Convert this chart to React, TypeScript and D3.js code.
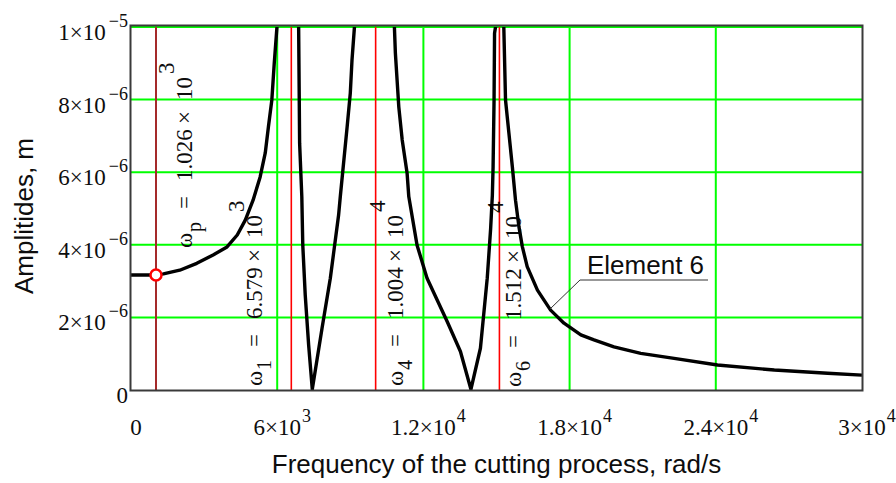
import { useMemo } from "react";
import * as d3 from "d3";

const WIDTH = 896;
const HEIGHT = 483;
const PLOT = { left: 131, right: 862, top: 27, bottom: 390 };

// response curve of element 6 (rad/s, m)
const freq = [
  0, 1026, 1330, 2000, 2700, 3370, 3940, 4360, 4690, 5010, 5300, 5510, 5640, 5780, 5880, 5990,
  6579, 6880, 6920, 7010, 7050, 7150, 7290, 7440, 7840, 8180, 8520, 8590, 8870, 9000, 9070, 9170,
  10040, 10810, 10850, 10920, 10990, 11130, 11330, 11400, 11740, 12150, 12980, 13520, 13950,
  14340, 14620, 14760, 14830, 14860, 14900, 14920, 14960, 15120, 15300, 15370, 15510, 15650,
  15780, 15920, 16060, 16260, 16680, 17220, 17770, 18460, 19000, 19820, 20920, 22290, 24070,
  26400, 28590, 30000,
];
const amp = [
  3.17e-6, 3.17e-6, 3.2e-6, 3.3e-6, 3.49e-6, 3.72e-6, 3.94e-6, 4.27e-6, 4.68e-6, 5.23e-6,
  5.87e-6, 6.53e-6, 7.25e-6, 7.99e-6, 9.01e-6, 1.0e-5, 4e-5, 1.0e-5, 6.8e-6, 5.33e-6, 3.99e-6,
  2.62e-6, 1.24e-6, 0.02e-6, 1.7e-6, 3.08e-6, 4.82e-6, 5.33e-6, 7.25e-6, 8.18e-6, 9.09e-6,
  1.0e-5, 4e-5, 1.0e-5, 9.28e-6, 8.54e-6, 7.8e-6, 6.89e-6, 5.98e-6, 5.33e-6, 3.99e-6, 3.08e-6,
  1.88e-6, 1.06e-6, 0.02e-6, 1.15e-6, 3.08e-6, 4.45e-6, 5.37e-6, 6.15e-6, 7.99e-6, 9.83e-6,
  1.0e-5, 4e-5, 1.0e-5, 7.99e-6, 7.07e-6, 6.15e-6, 5.23e-6, 4.5e-6, 3.95e-6, 3.4e-6, 2.75e-6,
  2.2e-6, 1.84e-6, 1.52e-6, 1.38e-6, 1.19e-6, 1.01e-6, 0.87e-6, 0.69e-6, 0.55e-6, 0.46e-6,
  0.41e-6,
];

// process frequency and natural frequencies
const markerFreq = 1026;
const markerAmp = 3.17e-6;
const modeNames = ["p", "1", "4", "6"];
const modeFreqs = [1026, 6579, 10040, 15120];
const modeValues = ["1.026", "6.579", "1.004", "1.512"];
const modeExps = ["3", "3", "4", "4"];
const modeColors = ["#a52a2a", "#ff0000", "#ff0000", "#ff0000"];
// label placement: baseline offset from the line (px) and start y
const modeLabelDx = [36, -29, 27, 22];
const modeLabelY = [248, 386, 386, 387];

const xTicks = [0, 6000, 12000, 18000, 24000, 30000];
const yTicks = [0, 2e-6, 4e-6, 6e-6, 8e-6, 1e-5];

const SERIF = "'Liberation Serif', 'Times New Roman', serif";
const SANS = "'Liberation Sans', Arial, sans-serif";
const INK = "#0d0d0d";

function splitExp(v: number): [string, string] | null {
  if (v === 0) return null;
  const [m, e] = v.toExponential().split("e");
  return [m, e.replace("+", "").replace("-", "\u2212")];
}

function TickLabel({ value, x, y, anchor }: { value: number; x: number; y: number; anchor: "end" | "middle" }) {
  const p = splitExp(value);
  return (
    <text x={x} y={y} textAnchor={anchor} fontFamily={SERIF} fontSize={23} fill={INK}>
      {p ? (
        <>
          <tspan>{`${p[0]}\u00d710`}</tspan>
          <tspan dx={p[1].length > 1 ? 3 : 1} dy={-13} fontSize={18}>
            {p[1]}
          </tspan>
        </>
      ) : (
        "0"
      )}
    </text>
  );
}

export default function App() {
  const x = useMemo(
    () => d3.scaleLinear().domain([0, 30000]).range([PLOT.left, PLOT.right]),
    [],
  );
  const y = useMemo(() => d3.scaleLinear().domain([0, 1e-5]).range([PLOT.bottom, PLOT.top]), []);

  const points = freq.map((f, i) => [f, amp[i]] as [number, number]);
  const path =
    d3
      .line<[number, number]>()
      .x((d) => x(d[0]))
      .y((d) => y(d[1]))(points) ?? "";

  return (
    <svg
      width={WIDTH}
      height={HEIGHT}
      style={{ position: "absolute", left: 0, top: 0, background: "#fff" }}
    >
      <defs>
        <clipPath id="plot-clip">
          <rect
            x={PLOT.left}
            y={PLOT.top}
            width={PLOT.right - PLOT.left}
            height={PLOT.bottom - PLOT.top}
          />
        </clipPath>
      </defs>

      {/* grid */}
      {yTicks.slice(1).map((t) => (
        <line
          key={`gy${t}`}
          x1={PLOT.left}
          x2={PLOT.right}
          y1={y(t)}
          y2={y(t)}
          stroke="#00ff00"
          strokeWidth={2}
        />
      ))}
      {xTicks.slice(1, -1).map((t) => (
        <line
          key={`gx${t}`}
          x1={x(t)}
          x2={x(t)}
          y1={PLOT.top}
          y2={PLOT.bottom}
          stroke="#00ff00"
          strokeWidth={2}
        />
      ))}

      {/* natural frequency markers */}
      {modeFreqs.map((f, i) => (
        <line
          key={`m${i}`}
          x1={x(f)}
          x2={x(f)}
          y1={PLOT.top}
          y2={PLOT.bottom}
          stroke={modeColors[i]}
          strokeWidth={i === 0 ? 2 : 1.6}
        />
      ))}

      {/* vertical result labels */}
      {modeFreqs.map((f, i) => (
        <g
          key={`l${i}`}
          transform={`translate(${x(f) + modeLabelDx[i]},${modeLabelY[i]}) rotate(-90)`}
          fontFamily={SERIF}
          fontSize={23}
          fill={INK}
        >
          <text x={0} y={0}>
            {"\u03c9"}
          </text>
          <text x={16} y={9} fontSize={20}>
            {modeNames[i]}
          </text>
          <text x={39} y={0}>
            =
          </text>
          <text x={67} y={0}>
            {modeValues[i]}
          </text>
          <text x={124} y={0}>
            {"\u00d7"}
          </text>
          <text x={148} y={0}>
            10
          </text>
          <text x={174} y={-18}>
            {modeExps[i]}
          </text>
        </g>
      ))}

      {/* curve */}
      <path
        d={path}
        fill="none"
        stroke="#000"
        strokeWidth={3.4}
        strokeLinejoin="round"
        clipPath="url(#plot-clip)"
      />

      {/* operating point */}
      <circle
        cx={x(markerFreq)}
        cy={y(markerAmp)}
        r={5.5}
        fill="#fff"
        stroke="#ff0000"
        strokeWidth={2.5}
      />

      {/* frame */}
      <rect
        x={PLOT.left - 0.5}
        y={PLOT.top - 1.5}
        width={PLOT.right - PLOT.left + 1}
        height={PLOT.bottom - PLOT.top + 2}
        fill="none"
        stroke="#3a3a3a"
        strokeWidth={2}
      />

      {yTicks.map((t) => (
        <TickLabel key={`ty${t}`} value={t} x={128} y={y(t) + 13} anchor="end" />
      ))}
      {xTicks.map((t) => (
        <TickLabel key={`tx${t}`} value={t} x={x(t) + 5} y={435} anchor="middle" />
      ))}

      {/* axis titles */}
      <text
        x={(PLOT.left + PLOT.right) / 2}
        y={473}
        textAnchor="middle"
        fontFamily={SANS}
        fontSize={26}
        fill={INK}
      >
        Frequency of the cutting process, rad/s
      </text>
      <text
        transform={`translate(33,${216}) rotate(-90)`}
        textAnchor="middle"
        fontFamily={SANS}
        fontSize={26}
        fill={INK}
      >
        Amplitides, m
      </text>

      {/* curve label */}
      <text x={587} y={274} fontFamily={SANS} fontSize={26} fill={INK}>
        Element 6
      </text>
      <line x1={580} x2={708} y1={280} y2={280} stroke="#333" strokeWidth={1} />
      <line x1={580} x2={550} y1={280} y2={309} stroke="#333" strokeWidth={1} />
    </svg>
  );
}
